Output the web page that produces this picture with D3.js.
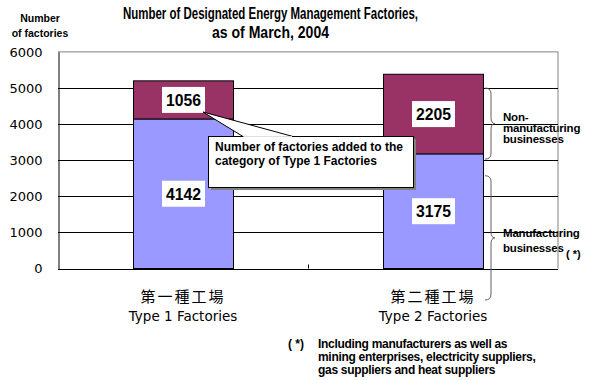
<!DOCTYPE html>
<html>
<head>
<meta charset="utf-8">
<script src="https://cdn.jsdelivr.net/npm/d3@7"></script>
<style>
  body { margin: 0; background: #fff; }
  svg { display: block; }
  .bold { font-family: "Liberation Sans", Arial, sans-serif; font-weight: bold; }
</style>
</head>
<body>
<div id="chart"></div>
<script>
// chart values
var categoriesJa = ["第一種工場", "第二種工場"];
var categoriesEn = ["Type 1 Factories", "Type 2 Factories"];
var manufacturing = [4142, 3175];
var nonManufacturing = [1056, 2205];
var yTicks = [0, 1000, 2000, 3000, 4000, 5000, 6000];

var width = 593, height = 380;

var svg = d3.select("#chart")
  .append("svg")
  .attr("width", width)
  .attr("height", height);

var xScale = d3.scaleBand().domain(categoriesEn).range([58, 558])
  .paddingInner(0.6).paddingOuter(0.3);
var yScale = d3.scaleLinear().domain([0, 6000]).range([268.5, 51.9]);

// titles (squeezed to mimic the narrow bitmap font)
svg.append("text").attr("class", "bold")
  .attr("x", 123).attr("y", 19)
  .attr("font-size", "16px")
  .attr("textLength", 295).attr("lengthAdjust", "spacingAndGlyphs")
  .text("Number of Designated Energy Management Factories,");
svg.append("text").attr("class", "bold")
  .attr("x", 212).attr("y", 38)
  .attr("font-size", "16px")
  .attr("textLength", 117).attr("lengthAdjust", "spacingAndGlyphs")
  .text("as of March, 2004");

svg.append("text").attr("class", "bold")
  .attr("x", 40).attr("y", 22).attr("text-anchor", "middle")
  .attr("font-size", "10.5px").text("Number");
svg.append("text").attr("class", "bold")
  .attr("x", 40).attr("y", 37).attr("text-anchor", "middle")
  .attr("font-size", "10.5px").text("of factories");

// annotation texts on the right (gridlines run over them)
var rightNotes = [
  { text: "Non-", y: 121 },
  { text: "manufacturing", y: 132 },
  { text: "businesses", y: 143 },
  { text: "Manufacturing", y: 237 },
  { text: "businesses", y: 252 }
];
svg.selectAll(".rnote").data(rightNotes).enter()
  .append("text").attr("class", "bold rnote")
  .attr("x", 503).attr("y", d => d.y)
  .attr("font-size", "11.5px")
  .attr("letter-spacing", "-0.2px")
  .text(d => d.text);
svg.append("text").attr("class", "bold")
  .attr("x", 566).attr("y", 258)
  .attr("font-size", "11px").text("( *)");

// plot border (gray top and right)
svg.append("line")
  .attr("x1", 58).attr("x2", 558)
  .attr("y1", yScale(6000)).attr("y2", yScale(6000))
  .attr("stroke", "#808080");
svg.append("line")
  .attr("x1", 558).attr("x2", 558)
  .attr("y1", yScale(6000)).attr("y2", yScale(0))
  .attr("stroke", "#808080");

// gridlines
svg.selectAll(".grid").data(yTicks.filter(d => d > 0 && d < 6000)).enter()
  .append("line").attr("class", "grid")
  .attr("x1", 58).attr("x2", 558)
  .attr("y1", d => Math.round(yScale(d)) + 0.5)
  .attr("y2", d => Math.round(yScale(d)) + 0.5)
  .attr("stroke", "#000");

// y axis
var yAxis = d3.axisLeft(yScale).tickValues(yTicks).tickSize(0).tickPadding(16)
  .tickFormat(d3.format("d"));
var gy = svg.append("g").attr("transform", "translate(58.5,0)").call(yAxis);
gy.select(".domain").attr("stroke", "#000");
gy.selectAll("text")
  .attr("font-family", "'DejaVu Sans', sans-serif")
  .attr("font-size", "13px")
  .attr("fill", "#000");

// bars
var stacks = categoriesEn.map(function(c, i) {
  return { cat: c, m: manufacturing[i], n: nonManufacturing[i] };
});

svg.selectAll(".bar-m").data(stacks).enter()
  .append("rect").attr("class", "bar-m")
  .attr("x", d => xScale(d.cat) + 0.5)
  .attr("y", d => yScale(d.m))
  .attr("width", xScale.bandwidth())
  .attr("height", d => yScale(0) - yScale(d.m))
  .attr("fill", "#9999FF")
  .attr("stroke", "#000");

svg.selectAll(".bar-n").data(stacks).enter()
  .append("rect").attr("class", "bar-n")
  .attr("x", d => xScale(d.cat) + 0.5)
  .attr("y", d => yScale(d.m + d.n))
  .attr("width", xScale.bandwidth())
  .attr("height", d => yScale(d.m) - yScale(d.m + d.n))
  .attr("fill", "#993366")
  .attr("stroke", "#000");

// bottom axis line and middle tick
svg.append("line")
  .attr("x1", 58).attr("x2", 558)
  .attr("y1", Math.round(yScale(0)) + 0.5).attr("y2", Math.round(yScale(0)) + 0.5)
  .attr("stroke", "#000");
svg.append("line")
  .attr("x1", 308.5).attr("x2", 308.5)
  .attr("y1", yScale(0) - 4).attr("y2", yScale(0))
  .attr("stroke", "#000");

// value labels
var labels = [];
stacks.forEach(function(d) {
  labels.push({ cat: d.cat, v: d.m, y: (yScale(0) + yScale(d.m)) / 2 });
  labels.push({ cat: d.cat, v: d.n, y: (yScale(d.m) + yScale(d.m + d.n)) / 2 });
});
var lg = svg.selectAll(".vlabel").data(labels).enter()
  .append("g").attr("class", "vlabel")
  .attr("transform", d => "translate(" + (xScale(d.cat) + xScale.bandwidth() / 2) + "," + d.y + ")");
lg.append("rect")
  .attr("x", -21).attr("y", -13).attr("width", 43).attr("height", 26)
  .attr("fill", "#fff");
lg.append("text").attr("class", "bold")
  .attr("x", -17).attr("y", 6).attr("font-size", "16px")
  .attr("textLength", 35).attr("lengthAdjust", "spacingAndGlyphs")
  .text(d => d.v);

// callout
var cx = 208, cy = 136, cw = 205, ch = 51;
svg.append("rect")
  .attr("x", cx + 3).attr("y", cy + 3).attr("width", cw).attr("height", ch)
  .attr("fill", "#808080");
svg.append("rect")
  .attr("x", cx + 0.5).attr("y", cy + 0.5).attr("width", cw).attr("height", ch)
  .attr("fill", "#fff").attr("stroke", "#000");
svg.append("path")
  .attr("d", "M243," + (cy + 0.5) + " L203,112 L293," + (cy + 0.5))
  .attr("fill", "#fff").attr("stroke", "#000");
svg.append("line")
  .attr("x1", 244).attr("x2", 292)
  .attr("y1", cy + 1).attr("y2", cy + 1)
  .attr("stroke", "#fff").attr("stroke-width", 1.5);
svg.append("text").attr("class", "bold")
  .attr("x", 215).attr("y", 151).attr("font-size", "12px")
  .text("Number of factories added to the");
svg.append("text").attr("class", "bold")
  .attr("x", 215).attr("y", 165).attr("font-size", "12px")
  .text("category of Type 1 Factories");

// braces
function brace(x, y1, y2, w) {
  var ym = (y1 + y2) / 2, r = 6;
  return "M" + x + "," + y1 +
    " Q" + (x + r) + "," + y1 + " " + (x + r) + "," + (y1 + r) +
    " L" + (x + r) + "," + (ym - r) +
    " Q" + (x + r) + "," + ym + " " + (x + w) + "," + ym +
    " Q" + (x + r) + "," + ym + " " + (x + r) + "," + (ym + r) +
    " L" + (x + r) + "," + (y2 - r) +
    " Q" + (x + r) + "," + y2 + " " + x + "," + y2;
}
svg.append("path")
  .attr("d", brace(485, yScale(5000), yScale(3030), 10))
  .attr("fill", "none").attr("stroke", "#606060");
svg.append("path")
  .attr("d", brace(485, yScale(2570), 300, 10))
  .attr("fill", "none").attr("stroke", "#606060");

// category labels
svg.selectAll(".catja").data(categoriesJa).enter()
  .append("text")
  .attr("x", (d, i) => xScale(categoriesEn[i]) + xScale.bandwidth() / 2)
  .attr("y", 302).attr("text-anchor", "middle")
  .attr("font-family", "'Noto Sans CJK JP', sans-serif")
  .attr("font-size", "15px")
  .attr("letter-spacing", "2px")
  .text(d => d);
svg.selectAll(".caten").data(categoriesEn).enter()
  .append("text")
  .attr("x", d => xScale(d) + xScale.bandwidth() / 2)
  .attr("y", 321).attr("text-anchor", "middle")
  .attr("font-family", "'DejaVu Sans', sans-serif")
  .attr("font-size", "13.5px")
  .text(d => d);

// footnote
svg.append("text").attr("class", "bold")
  .attr("x", 288).attr("y", 348).attr("font-size", "12px").text("( *)");
var foot = [
  "Including manufacturers as well  as",
  "mining enterprises, electricity suppliers,",
  "gas suppliers and heat suppliers"
];
svg.selectAll(".foot").data(foot).enter()
  .append("text").attr("class", "bold foot")
  .attr("x", 318).attr("y", (d, i) => 348 + i * 13)
  .attr("font-size", "12px")
  .attr("letter-spacing", "-0.3px")
  .text(d => d);
</script>
</body>
</html>
